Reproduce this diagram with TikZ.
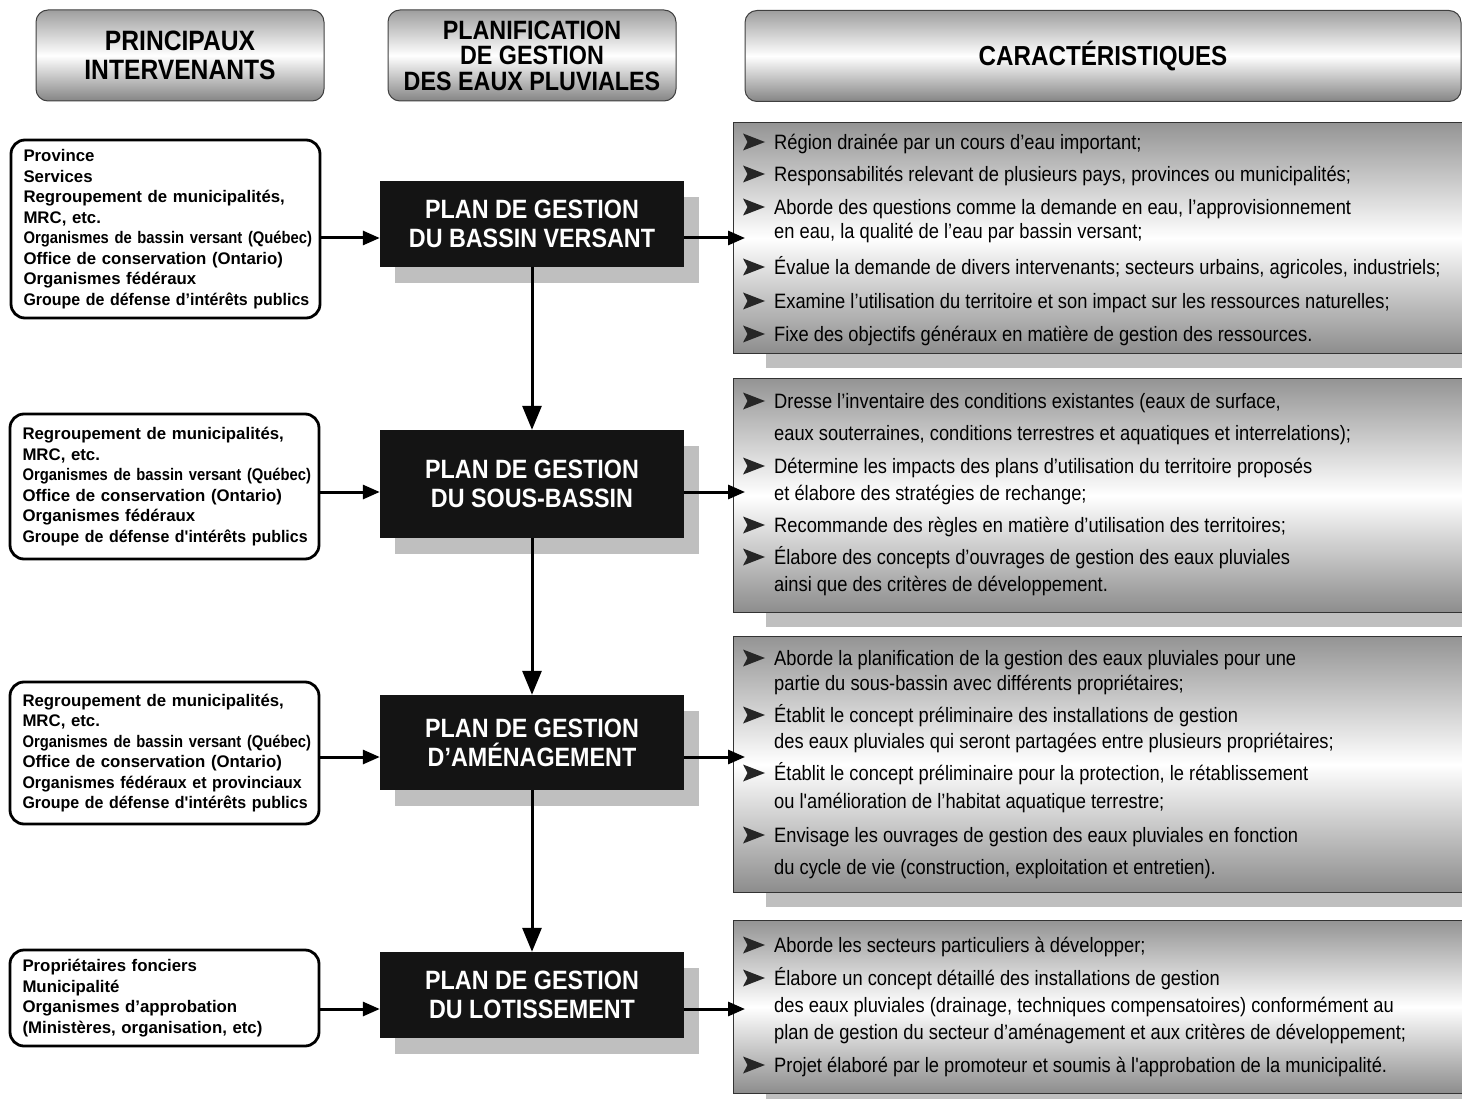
\documentclass[tikz,border=0pt]{standalone}
\usepackage{fontspec}
\setmainfont{Liberation Sans}
\newfontfamily\etroite[FakeStretch=0.88]{Liberation Sans}
\newfontfamily\mince[FakeStretch=0.95]{Liberation Sans}
\usetikzlibrary{arrows.meta,calc,shadows}

\tikzset{
  entete/.style={draw=black!75, line width=1pt, rounded corners=12pt,
    top color=black!38, bottom color=black!48, middle color=white,
    minimum height=91pt, align=center},
  acteur/.style={draw, line width=2.8pt, rounded corners=14pt, fill=white,
    minimum width=309pt, text width=284pt, align=left, inner xsep=12.5pt,
    font=\bfseries\fontsize{16.8}{20.5}\selectfont},
  plan/.style={fill=black!92, text=white, minimum width=304pt, align=center,
    font=\etroite\bfseries\fontsize{26.5}{29}\selectfont,
    general shadow={fill=black!25, shadow xshift=15pt, shadow yshift=-16pt}},
  carac/.style={draw=black!80, line width=1pt, anchor=north west,
    top color=black!42, bottom color=black!45, middle color=white,
    minimum width=760pt,
    general shadow={fill=black!25, shadow xshift=32pt, shadow yshift=-14pt}},
  ligne/.style={anchor=base west, inner sep=0pt, text=black,
    font=\etroite\fontsize{20.8}{21}\selectfont},
  fleche/.style={line width=3pt, -{Triangle[length=17pt,width=14pt]}},
  descente/.style={line width=3pt, -{Triangle[length=24pt,width=19pt]}},
  puce/.pic={\fill[black!85] (11,0) -- (-11,-8.5) -- (-6.5,0) -- (-11,8.5) -- cycle;}
}

\begin{document}
\begin{tikzpicture}[x=1pt,y=-1pt]
  \useasboundingbox (0,0) rectangle (1462,1099);
  \clip (0,0) rectangle (1462,1099);
  \fill[white] (0,0) rectangle (1462,1099);

  % en-tetes des colonnes
  \node[entete, minimum width=288pt, font=\etroite\bfseries\fontsize{28}{29}\selectfont]
    (h1) at (180,55.5) {PRINCIPAUX\\INTERVENANTS};
  \node[entete, minimum width=288pt, font=\etroite\bfseries\fontsize{26.5}{25.5}\selectfont]
    (h2) at (532,55.5) {PLANIFICATION\\DE GESTION\\DES EAUX PLUVIALES};
  \node[entete, minimum width=716pt, font=\etroite\bfseries\fontsize{27.5}{29}\selectfont]
    (h3) at (1103,56) {CARACTÉRISTIQUES};

  % caracteristiques
  \node[carac, minimum height=231pt] (c1) at (733,122) {};
  \node[carac, minimum height=234pt] (c2) at (733,378) {};
  \node[carac, minimum height=256pt] (c3) at (733,636) {};
  \node[carac, minimum height=173pt] (c4) at (733,920) {};

  \foreach \y in {142,174,207,267,301,334,401,466,525,557,658,715,773,835,945,978,1065}
    \pic at (754,\y) {puce};
  \foreach \y/\t in {
    142/{Région drainée par un cours d’eau important;},
    174/{Responsabilités relevant de plusieurs pays, provinces ou municipalités;},
    207/{Aborde des questions comme la demande en eau, l’approvisionnement},
    231/{en eau, la qualité de l’eau par bassin versant;},
    267/{Évalue la demande de divers intervenants; secteurs urbains, agricoles, industriels;},
    301/{Examine l’utilisation du territoire et son impact sur les ressources naturelles;},
    334/{Fixe des objectifs généraux en matière de gestion des ressources.},
    401/{Dresse l’inventaire des conditions existantes (eaux de surface,},
    433/{eaux souterraines, conditions terrestres et aquatiques et interrelations);},
    466/{Détermine les impacts des plans d’utilisation du territoire proposés},
    493/{et élabore des stratégies de rechange;},
    525/{Recommande des règles en matière d’utilisation des territoires;},
    557/{Élabore des concepts d’ouvrages de gestion des eaux pluviales},
    584/{ainsi que des critères de développement.},
    658/{Aborde la planification de la gestion des eaux pluviales pour une},
    683/{partie du sous-bassin avec différents propriétaires;},
    715/{Établit le concept préliminaire des installations de gestion},
    741/{des eaux pluviales qui seront partagées entre plusieurs propriétaires;},
    773/{Établit le concept préliminaire pour la protection, le rétablissement},
    801/{ou l'amélioration de l’habitat aquatique terrestre;},
    835/{Envisage les ouvrages de gestion des eaux pluviales en fonction},
    867/{du cycle de vie (construction, exploitation et entretien).},
    945/{Aborde les secteurs particuliers à développer;},
    978/{Élabore un concept détaillé des installations de gestion},
    1005/{des eaux pluviales (drainage, techniques compensatoires) conformément au},
    1032/{plan de gestion du secteur d’aménagement et aux critères de développement;},
    1065/{Projet élaboré par le promoteur et soumis à l'approbation de la municipalité.}}
    \node[ligne] (t\y) at (774,\y+7.5) {\t};

  % plans
  \node[plan, minimum height=86pt] (b1) at (532,224) {PLAN DE GESTION\\DU BASSIN VERSANT};
  \node[plan, minimum height=108pt] (b2) at (532,484) {PLAN DE GESTION\\DU SOUS-BASSIN};
  \node[plan, minimum height=95pt] (b3) at (532,742.5) {PLAN DE GESTION\\D’AMÉNAGEMENT};
  \node[plan, minimum height=86pt] (b4) at (532,995) {PLAN DE GESTION\\DU LOTISSEMENT};

  % intervenants
  \node[acteur, minimum height=178pt] (l1) at (165.5,229) {Province\\Services\\
    \mbox{Regroupement de municipalités,}\\MRC, etc.\\\mbox{\etroite Organismes de bassin versant (Québec)}\\
    \mbox{Office de conservation (Ontario)}\\Organismes fédéraux\\\mbox{\mince Groupe de défense d’intérêts publics}};
  \node[acteur, minimum height=145pt] (l2) at (164.5,486.5) {\mbox{Regroupement de municipalités,}\\MRC, etc.\\
    \mbox{\etroite Organismes de bassin versant (Québec)}\\\mbox{Office de conservation (Ontario)}\\
    Organismes fédéraux\\\mbox{\mince Groupe de défense d'intérêts publics}};
  \node[acteur, minimum height=142pt] (l3) at (164.5,753) {\mbox{Regroupement de municipalités,}\\MRC, etc.\\
    \mbox{\etroite Organismes de bassin versant (Québec)}\\\mbox{Office de conservation (Ontario)}\\
    \mbox{\mince Organismes fédéraux et provinciaux}\\\mbox{\mince Groupe de défense d'intérêts publics}};
  \node[acteur, minimum height=96pt] (l4) at (164.5,998) {Propriétaires fonciers\\Municipalité\\
    Organismes d’approbation\\\mbox{(Ministères, organisation, etc)}};

  % fleches
  \foreach \i/\d in {1/14,2/8,3/14.5,4/14} {
    \coordinate (e\i) at ($(b\i.west)+(0,\d)$);
    \draw[fleche] (l\i.east |- e\i) -- (e\i);
    \draw[fleche] (b\i.east |- e\i) -- ($(c\i.west |- e\i)+(12,0)$);
  }
  \draw[descente] (b1) -- (b2);
  \draw[descente] (b2) -- (b3);
  \draw[descente] (b3) -- (b4);
\end{tikzpicture}
\end{document}
